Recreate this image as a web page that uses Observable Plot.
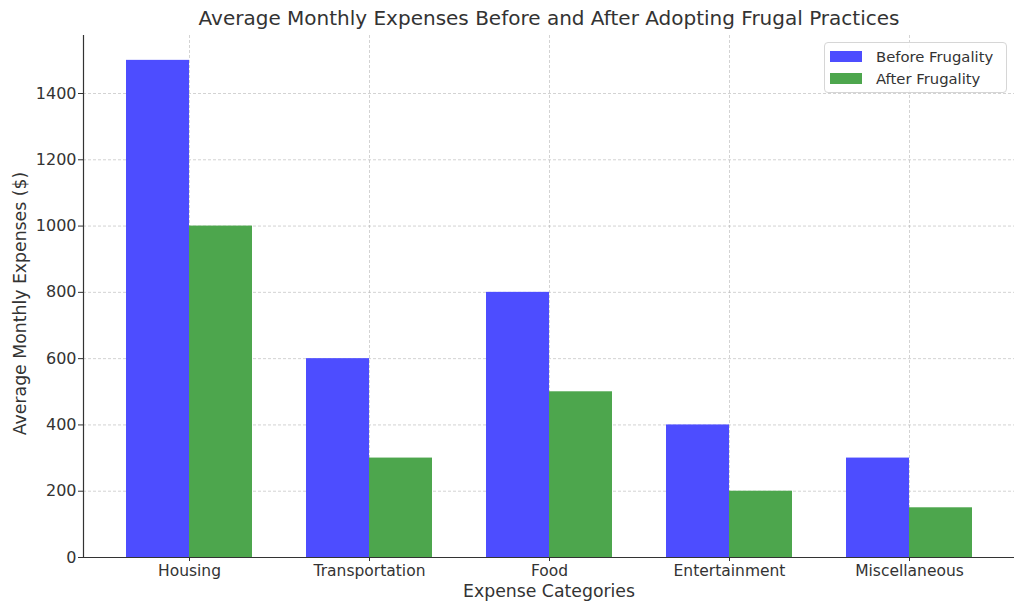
<!DOCTYPE html>
<html><head><meta charset="utf-8">
<script src="https://cdn.jsdelivr.net/npm/d3@7"></script>
<script src="https://cdn.jsdelivr.net/npm/@observablehq/plot@0.6"></script>
<style>
body{margin:0;background:#fff;font-family:"DejaVu Sans",sans-serif;}
#wrap{position:relative;width:1024px;height:611px;}
#wrap svg, #wrap svg text, #wrap svg g {font-family:"DejaVu Sans" !important;}
.legend{position:absolute;left:824px;top:42px;width:183px;height:51px;border:1px solid #d6d6d6;border-radius:4px;background:rgba(255,255,255,0.8);box-sizing:border-box;font-size:14.8px;color:#333;font-family:"DejaVu Sans";}
.legend .item{position:absolute;left:5px;height:16px;display:flex;align-items:center;white-space:nowrap;}
.legend .sw{width:32px;height:11px;margin-right:14px;}
</style></head><body><div id="wrap"></div>
<script>
const categories = ["Housing","Transportation","Food","Entertainment","Miscellaneous"];
const beforeValues = [1500, 600, 800, 400, 300];
const afterValues = [1000, 300, 500, 200, 150];
const seriesNames = ["Before Frugality", "After Frugality"];
const seriesColors = ["#4d4dff", "#4da64d"];
const yTicks = [0, 200, 400, 600, 800, 1000, 1200, 1400];
const titleText = "Average Monthly Expenses Before and After Adopting Frugal Practices";
const xLabel = "Expense Categories";
const yLabel = "Average Monthly Expenses ($)";

const beforeRows = categories.map((c, i) => ({category: c, series: seriesNames[0], value: beforeValues[i]}));
const afterRows = categories.map((c, i) => ({category: c, series: seriesNames[1], value: afterValues[i]}));

const gridStyle = {stroke: "#b0b0b0", strokeOpacity: 0.7, strokeDasharray: "3,2", strokeWidth: 0.8};

const plot = Plot.plot({
  width: 1024, height: 611,
  marginTop: 35, marginBottom: 54, marginLeft: 83, marginRight: 10,
  style: {fontFamily: "DejaVu Sans", fontSize: "16px", color: "#333", background: "#fff"},
  x: {domain: categories, paddingInner: 0.3, paddingOuter: 0.2333, label: null},
  y: {domain: [0, 1575], label: null},
  marks: [
    Plot.gridX(categories, gridStyle),
    Plot.gridY(yTicks, gridStyle),
    Plot.barY(beforeRows, {x: "category", y: "value", fill: seriesColors[0], insetLeft: 0, insetRight: 63}),
    Plot.barY(afterRows, {x: "category", y: "value", fill: seriesColors[1], insetLeft: 63, insetRight: 0}),
    Plot.axisX({tickSize: 4, tickPadding: 3, fontSize: 15.5, stroke: "#333", label: null}),
    Plot.axisY(yTicks, {tickSize: 5, tickPadding: 2, fontSize: 16, stroke: "#333", label: null, tickFormat: d => String(d)}),
    Plot.frame({anchor: "left", stroke: "#333", strokeWidth: 1.2}),
    Plot.ruleY([0], {stroke: "#333", strokeWidth: 1.2}),
    Plot.text([titleText], {frameAnchor: "top", lineAnchor: "middle", textAnchor: "middle", dy: -17, fontSize: 20, fill: "#333", text: d => d}),
    Plot.text([xLabel], {frameAnchor: "bottom", lineAnchor: "middle", textAnchor: "middle", dy: 34, fontSize: 17.3, fill: "#333", text: d => d}),
    Plot.text([yLabel], {frameAnchor: "left", lineAnchor: "middle", textAnchor: "middle", dx: -63, dy: 7, rotate: -90, fontSize: 17.3, fill: "#333", text: d => d})
  ]
});
const wrap = document.getElementById("wrap");
wrap.appendChild(plot);

const legend = document.createElement("div");
legend.className = "legend";
seriesNames.forEach((name, i) => {
  const item = document.createElement("div");
  item.className = "item";
  item.style.top = (5 + i * 22) + "px";
  const sw = document.createElement("span");
  sw.className = "sw";
  sw.style.background = seriesColors[i];
  item.appendChild(sw);
  item.appendChild(document.createTextNode(name));
  legend.appendChild(item);
});
wrap.appendChild(legend);
</script></body></html>
